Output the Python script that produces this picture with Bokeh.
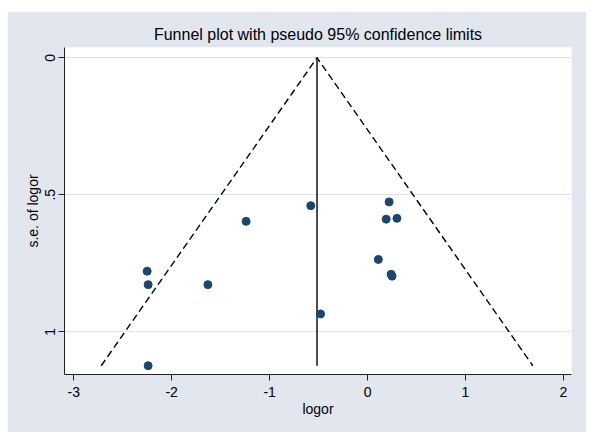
from bokeh.plotting import figure
from bokeh.models import Range1d, FixedTicker
from bokeh.embed import file_html
from bokeh.resources import INLINE

# Study estimates (log odds ratio) and their standard errors
logor = [-2.24, -2.25, -2.24, -1.63, -1.24, -0.58, -0.48, 0.22, 0.19, 0.30, 0.11, 0.25, 0.24]
se_logor = [1.124, 0.779, 0.828, 0.828, 0.597, 0.540, 0.935, 0.526, 0.589, 0.586, 0.736, 0.797, 0.790]
pooled = -0.516
z95 = 1.96

x_ticks = [-3, -2, -1, 0, 1, 2]
x_tick_labels = ["-3", "-2", "-1", "0", "1", "2"]
y_ticks = [0, 0.5, 1]
y_tick_labels = ["0", ".5", "1"]

title_text = "Funnel plot with pseudo 95% confidence limits"
x_label = "logor"
y_label = "s.e. of logor"

BG = "#E1E6EF"
GRID = "#DDE3EC"
NAVY = "#1A476F"
FONT = "Liberation Sans"

p = figure(width=579, height=421, output_backend="svg", toolbar_location=None,
           x_range=Range1d(-3.094, 2.082), y_range=Range1d(1.156, -0.0375),
           min_border_left=57, min_border_right=15, min_border_top=36, min_border_bottom=58,
           title=title_text)
p.margin = (11, 0, 0, 7)

p.background_fill_color = "white"
p.border_fill_color = BG
p.outline_line_color = None

p.title.align = "center"
p.title.text_font = FONT
p.title.text_font_size = "16px"
p.title.text_font_style = "normal"
p.title.text_color = "black"

for ax in (p.xaxis[0], p.yaxis[0]):
    ax.minor_tick_line_color = None
    ax.major_tick_out = 6
    ax.major_tick_in = 0
    ax.axis_line_color = "#222222"
    ax.major_tick_line_color = "#222222"
    ax.major_label_text_font = FONT
    ax.major_label_text_font_size = "14px"
    ax.major_label_text_color = "black"
    ax.axis_label_text_font = FONT
    ax.axis_label_text_font_size = "14px"
    ax.axis_label_text_font_style = "normal"
    ax.axis_label_text_color = "black"

p.xaxis.ticker = FixedTicker(ticks=x_ticks)
p.xaxis.major_label_overrides = {t: s for t, s in zip(x_ticks, x_tick_labels)}
p.xaxis.axis_label = x_label
p.xaxis.major_label_standoff = 6
p.xaxis.axis_label_standoff = 1

p.yaxis.ticker = FixedTicker(ticks=y_ticks)
p.yaxis.major_label_overrides = {t: s for t, s in zip(y_ticks, y_tick_labels)}
p.yaxis.major_label_orientation = "vertical"
p.yaxis.axis_label = y_label
p.yaxis.major_label_standoff = 3
p.yaxis.axis_label_standoff = 2

p.xgrid.visible = False
p.ygrid.ticker = FixedTicker(ticks=y_ticks)
p.ygrid.grid_line_color = GRID
p.ygrid.grid_line_width = 1.2

se_max = max(se_logor)
p.line([pooled - z95 * se_max, pooled, pooled + z95 * se_max], [se_max, 0, se_max],
       line_color="black", line_width=1.4, line_dash="7 4")
p.line([pooled, pooled], [0, se_max], line_color="#222222", line_width=1.6)

p.scatter(logor, se_logor, size=8, fill_color=NAVY, line_color=NAVY)

open("out.html", "w").write(file_html(p, INLINE))
